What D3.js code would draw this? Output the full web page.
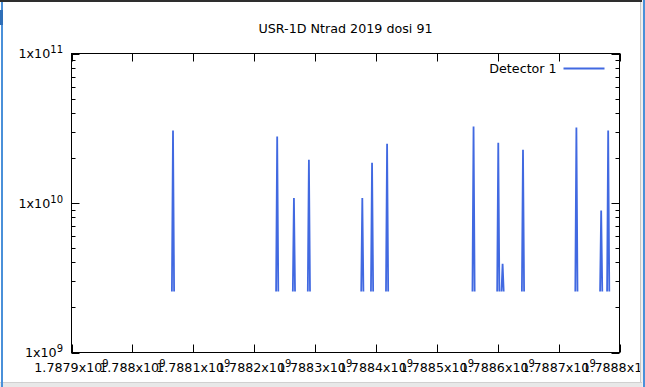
<!DOCTYPE html>
<html>
<head>
<meta charset="utf-8">
<script src="https://cdn.jsdelivr.net/npm/d3@7"></script>
<style>
  body { margin: 0; background: #fff; }
  svg { display: block; }
  text { font-family: "DejaVu Sans", sans-serif; fill: #000; }
</style>
</head>
<body>
<div id="chart"></div>
<script>
var title = "USR-1D Ntrad 2019 dosi 91";
var seriesName = "Detector 1";

// x: unix time, y: counts (0 = no reading, not drawn on log axis)
var timeStamps = [
    1788064900, 1788066700, 1788068500, 1788070300,
    1788236000, 1788237800, 1788239600, 1788241400,
    1788263500, 1788265300, 1788267100, 1788268900,
    1788288100, 1788289900, 1788291700, 1788293500,
    1788375800, 1788377600, 1788379400, 1788381200,
    1788391800, 1788393600, 1788395400, 1788397200,
    1788416500, 1788418300, 1788420100, 1788421900,
    1788558500, 1788560300, 1788562100, 1788563900,
    1788599100, 1788600900, 1788602700, 1788604500,
    1788606200, 1788608000, 1788609800, 1788611600,
    1788639700, 1788641500, 1788643300, 1788645100,
    1788727400, 1788729200, 1788731000, 1788732800,
    1788768100, 1788769900, 1788771700, 1788773500,
    1788779600, 1788781400, 1788783200, 1788785000
];
var counts = [
    2.56e9, 3.05e10, 2.56e9, 0,
    2.56e9, 2.79e10, 2.56e9, 0,
    2.56e9, 1.08e10, 2.56e9, 0,
    2.56e9, 1.95e10, 2.56e9, 0,
    2.56e9, 1.08e10, 2.56e9, 0,
    2.56e9, 1.86e10, 2.56e9, 0,
    2.56e9, 2.49e10, 2.56e9, 0,
    2.56e9, 3.25e10, 2.56e9, 0,
    2.56e9, 2.53e10, 2.56e9, 0,
    2.56e9, 3.92e9, 2.56e9, 0,
    2.56e9, 2.27e10, 2.56e9, 0,
    2.56e9, 3.2e10, 2.56e9, 0,
    2.56e9, 8.9e9, 2.56e9, 0,
    2.56e9, 3.05e10, 2.56e9, 0
];

var xTicks = [1.7879e9, 1.788e9, 1.7881e9, 1.7882e9, 1.7883e9, 1.7884e9, 1.7885e9, 1.7886e9, 1.7887e9, 1.7888e9];
var xTickLabels = ["1.7879", "1.788", "1.7881", "1.7882", "1.7883", "1.7884", "1.7885", "1.7886", "1.7887", "1.7888"];
var yTicks = [1e9, 1e10, 1e11];
var yTickExps = ["9", "10", "11"];
var yMinorTicks = [2e9, 3e9, 4e9, 5e9, 6e9, 7e9, 8e9, 9e9, 2e10, 3e10, 4e10, 5e10, 6e10, 7e10, 8e10, 9e10];

var width = 645, height = 387;
var color = "#4169e1";
var fs = 12.7;

var svg = d3.select("#chart").append("svg")
    .attr("width", width)
    .attr("height", height);

var x = d3.scaleLinear().domain([1.7879e9, 1.7888e9]).range([71.5, 619.5]);
var y = d3.scaleLog().domain([1e9, 1e11]).range([352.5, 53.5]);

// title
svg.append("text")
    .attr("x", 345.5)
    .attr("y", 32.5)
    .attr("text-anchor", "middle")
    .style("font-size", fs + "px")
    .text(title);

var axes = svg.append("g").attr("stroke", "#000").attr("stroke-width", 1);

// x ticks (bottom and top, pointing inward)
xTicks.forEach(function (t) {
    var px = Math.round(x(t)) + 0.5;
    axes.append("line").attr("x1", px).attr("x2", px).attr("y1", 352.5).attr("y2", 344.5);
    axes.append("line").attr("x1", px).attr("x2", px).attr("y1", 53.5).attr("y2", 61.5);
});

// y ticks (left and right)
yTicks.forEach(function (t) {
    var py = Math.round(y(t)) + 0.5;
    axes.append("line").attr("x1", 71.5).attr("x2", 79.5).attr("y1", py).attr("y2", py);
    axes.append("line").attr("x1", 619.5).attr("x2", 611.5).attr("y1", py).attr("y2", py);
});
yMinorTicks.forEach(function (t) {
    var py = Math.round(y(t)) + 0.5;
    axes.append("line").attr("x1", 71.5).attr("x2", 75.5).attr("y1", py).attr("y2", py);
    axes.append("line").attr("x1", 619.5).attr("x2", 615.5).attr("y1", py).attr("y2", py);
});

// x tick labels
xTicks.forEach(function (t, i) {
    var txt = svg.append("text")
        .attr("x", x(t))
        .attr("y", 372)
        .attr("text-anchor", "middle")
        .style("font-size", fs + "px");
    txt.append("tspan").text(xTickLabels[i] + "x10");
    txt.append("tspan").attr("dy", -5).style("font-size", "10px").text("9");
});

// y tick labels
yTicks.forEach(function (t, i) {
    var txt = svg.append("text")
        .attr("x", 63)
        .attr("y", y(t) + 4.5)
        .attr("text-anchor", "end")
        .style("font-size", fs + "px");
    txt.append("tspan").text("1x10");
    txt.append("tspan").attr("dy", -5).style("font-size", "10px").text(yTickExps[i]);
});

// data line
var points = timeStamps.map(function (t, i) {
    return { t: t, v: counts[i] };
});

var line = d3.line()
    .defined(function (d) { return d.v > 0; })
    .x(function (d) { return x(d.t); })
    .y(function (d) { return y(d.v); });

svg.append("path")
    .datum(points)
    .attr("fill", "none")
    .attr("stroke", color)
    .attr("stroke-width", 1.8)
    .attr("d", line);

// legend
svg.append("text")
    .attr("x", 556.7)
    .attr("y", 73.3)
    .attr("text-anchor", "end")
    .style("font-size", fs + "px")
    .text(seriesName);
svg.append("line")
    .attr("x1", 563.5).attr("x2", 604.5)
    .attr("y1", 68.5).attr("y2", 68.5)
    .attr("stroke", color)
    .attr("stroke-width", 2);

// border
svg.append("rect")
    .attr("x", 71.5).attr("y", 53.5)
    .attr("width", 548).attr("height", 299)
    .attr("fill", "none")
    .attr("stroke", "#000");

// window frame (drawn last so it clips the last tick label)
svg.append("rect").attr("x", 640).attr("y", 0).attr("width", 5).attr("height", 387).attr("fill", "#f0f0f0");
svg.append("rect").attr("x", 640).attr("y", 0).attr("width", 1).attr("height", 387).attr("fill", "#c8c8c8");
svg.append("rect").attr("x", 643).attr("y", 0).attr("width", 2).attr("height", 387).attr("fill", "#4a90d9");
svg.append("rect").attr("x", 0).attr("y", 0).attr("width", 642).attr("height", 2).attr("fill", "#2e2e2e");
svg.append("rect").attr("x", 0).attr("y", 382).attr("width", 642).attr("height", 5).attr("fill", "#e8e8e8");
svg.append("line").attr("x1", 0).attr("x2", 642).attr("y1", 382.5).attr("y2", 382.5).attr("stroke", "#d0d0d0");
svg.append("rect").attr("x", 1).attr("y", 2).attr("width", 2).attr("height", 385).attr("fill", "#4a90d9");
svg.append("rect").attr("x", 0).attr("y", 10).attr("width", 3).attr("height", 15).attr("fill", "#2f6fb8");
</script>
</body>
</html>
